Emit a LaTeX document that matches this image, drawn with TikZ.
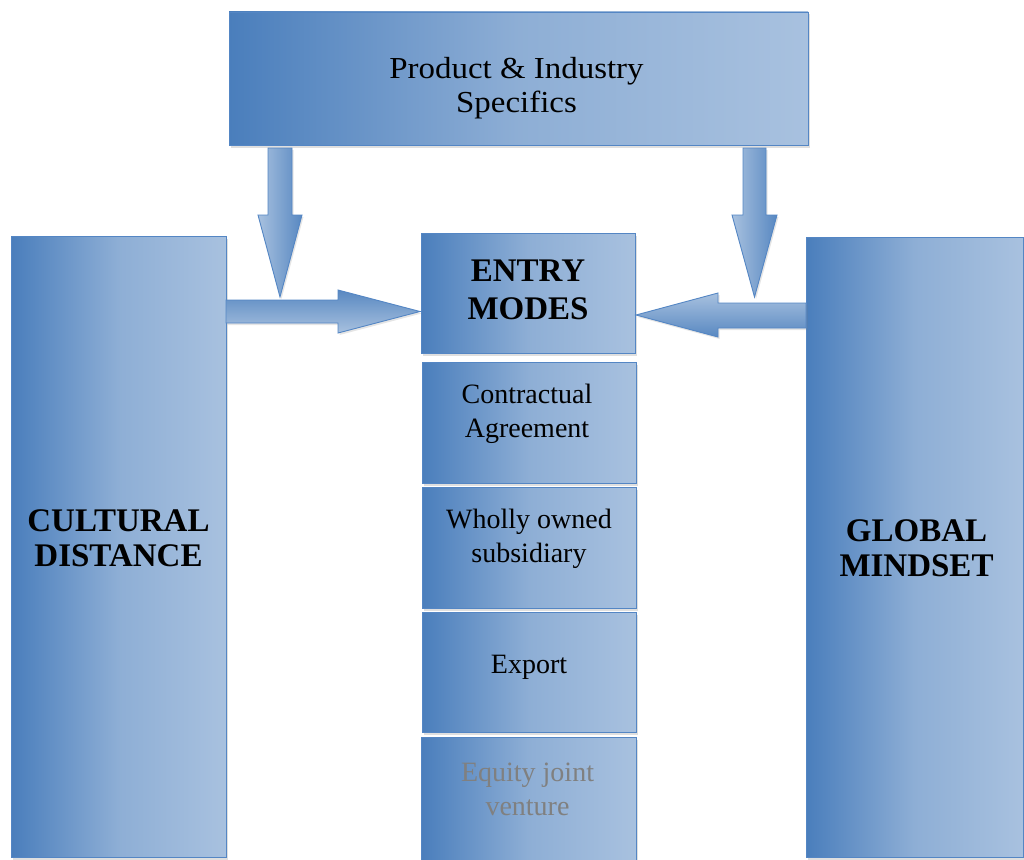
\documentclass[tikz,border=0pt]{standalone}
\usepackage{fontspec}
\setmainfont{Liberation Serif}
\newfontfamily\prodfont[FakeStretch=1.08]{Liberation Serif}
\usetikzlibrary{shadows,calc}
\definecolor{bdark}{RGB}{74,126,188}
\definecolor{blight}{RGB}{168,193,223}
\definecolor{bedge}{RGB}{84,134,196}
\definecolor{greytxt}{RGB}{128,128,128}
\tikzset{
  box/.style={draw=bedge, line width=0.9pt, left color=bdark, right color=blight,
    middle color=blight!72!bdark,
    inner sep=0pt, outer sep=0pt,
    drop shadow={opacity=0.25, shadow xshift=1.5pt, shadow yshift=-2.5pt}},
  txt/.style={align=center, font=\fontsize{28}{34}\selectfont, inner sep=0pt},
  btxt/.style={align=center, font=\fontsize{33}{35}\selectfont\bfseries, inner sep=0pt},
  varrow/.style={draw=bedge, line width=0.9pt, left color=blight, right color=bdark!85!blight,
    drop shadow={opacity=0.2, shadow xshift=1.5pt, shadow yshift=-2pt}},
  rarrow/.style={draw=bedge, line width=0.9pt, top color=bdark!85!blight, bottom color=blight,
    drop shadow={opacity=0.2, shadow xshift=1.5pt, shadow yshift=-2pt}},
  larrow/.style={draw=bedge, line width=0.9pt, top color=blight, bottom color=bdark!85!blight,
    drop shadow={opacity=0.2, shadow xshift=1.5pt, shadow yshift=-2pt}},
}
\begin{document}
\begin{tikzpicture}[x=1pt,y=-1pt]
\useasboundingbox (0,0) rectangle (1024,859);
\fill[white] (0,0) rectangle (1024,859);
\clip (0,0) rectangle (1024,859);

% boxes
\node[box, minimum width=579pt, minimum height=133pt] (prod) at (518.5,78.5) {};
\node[align=center, inner sep=0pt, font=\prodfont\fontsize{30.5}{34}\selectfont] (prodt) at ($(prod.center)+(-2,10)$) {Product \& Industry\\Specifics};

\node[box, minimum width=215pt, minimum height=621pt] (cult) at (118.5,546.5) {};
\node[btxt] (cultt) at ($(cult.center)+(0,-8)$) {CULTURAL\\DISTANCE};

\node[box, minimum width=217pt, minimum height=620pt] (glob) at (914.5,547) {};
\node[btxt] (globt) at ($(glob.center)+(2,1)$) {GLOBAL\\MINDSET};

\node[box, minimum width=214pt, minimum height=120pt] (entry) at (528,293) {};
\node[btxt, font=\fontsize{33}{38}\selectfont\bfseries] (entryt) at ($(entry.center)+(0,-3)$) {ENTRY\\MODES};

\node[box, minimum width=214pt, minimum height=121pt] (contr) at (529,422.5) {};
\node[txt] (contrt) at ($(contr.center)+(-2,-9)$) {Contractual\\Agreement};

\node[box, minimum width=214pt, minimum height=121pt] (whol) at (529,547.5) {};
\node[txt] (wholt) at ($(whol.center)+(0,-9)$) {Wholly owned\\subsidiary};

\node[box, minimum width=214pt, minimum height=120pt] (expo) at (529,672) {};
\node[txt] (expot) at ($(expo.center)+(0,-5)$) {Export};

\node[box, minimum width=215pt, minimum height=124pt] (equi) at (528.5,799) {};
\node[txt, text=greytxt] (equit) at ($(equi.center)+(-1,-10)$) {Equity joint\\venture};

% horizontal block arrows
\path[rarrow] (226,300) -- (338,300) -- (338,290) -- (420,311.5) -- (338,333) -- (338,323) -- (226,323) -- cycle;
\path[larrow] (806,303) -- (718,303) -- (718,293) -- (636,315) -- (718,337) -- (718,328) -- (806,328) -- cycle;

% vertical block arrows
\path[varrow] (268,148) -- (292,148) -- (292,215) -- (302,215) -- (280,297) -- (258,215) -- (268,215) -- cycle;
\path[varrow] (743,148) -- (766,148) -- (766,215) -- (777,215) -- (754.5,297) -- (732,215) -- (743,215) -- cycle;
\end{tikzpicture}
\end{document}
